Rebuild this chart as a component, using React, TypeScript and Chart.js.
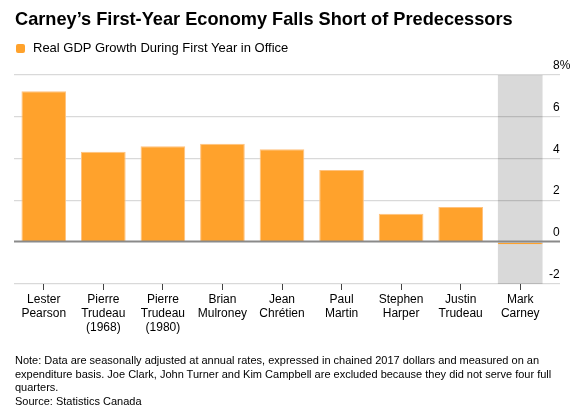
import React, { useEffect, useRef } from "react";
import { Chart, registerables } from "chart.js";

Chart.register(...registerables);

const categories: string[][] = [
  ["Lester", "Pearson"],
  ["Pierre", "Trudeau", "(1968)"],
  ["Pierre", "Trudeau", "(1980)"],
  ["Brian", "Mulroney"],
  ["Jean", "Chrétien"],
  ["Paul", "Martin"],
  ["Stephen", "Harper"],
  ["Justin", "Trudeau"],
  ["Mark", "Carney"],
];

// Real GDP growth (%) during first year in office
const gdpGrowth: number[] = [7.22, 4.33, 4.59, 4.71, 4.45, 3.46, 1.36, 1.69, -0.1];

const yTicks: number[] = [-2, 0, 2, 4, 6, 8];

const seriesLabel = "Real GDP Growth During First Year in Office";
const highlightIndex = 8;

const ORANGE = "#FFA22C";
const FONT = "'Liberation Sans', Arial, Helvetica, sans-serif";

const bandPlugin = {
  id: "highlightBand",
  beforeDraw(chart: any) {
    const meta = chart.getDatasetMeta(0);
    const bar = meta.data[highlightIndex];
    if (!bar) return;
    const { top, bottom } = chart.chartArea;
    const ctx = chart.ctx;
    const w = bar.width;
    ctx.save();
    ctx.fillStyle = "#d9d9d9";
    ctx.fillRect(bar.x - w / 2, top, w, bottom - top);
    ctx.restore();
  },
};

const axisPlugin = {
  id: "zeroLineAndLabels",
  afterDatasetsDraw(chart: any) {
    const ctx = chart.ctx;
    const y = chart.scales.y;
    const { left, right } = chart.chartArea;
    const y0 = Math.round(y.getPixelForValue(0));
    ctx.save();
    ctx.strokeStyle = "#8a8a8a";
    ctx.lineWidth = 2;
    ctx.beginPath();
    ctx.moveTo(left, y0 - 0.5);
    ctx.lineTo(right + 10, y0 - 0.5);
    ctx.stroke();

    ctx.fillStyle = "#000";
    ctx.font = `12px ${FONT}`;
    ctx.textBaseline = "alphabetic";
    ctx.textAlign = "left";
    const x = right + 3;
    yTicks.forEach((v) => {
      const py = y.getPixelForValue(v);
      const txt = v === yTicks[yTicks.length - 1] ? `${v}%` : String(v);
      const shift = v < 0 ? ctx.measureText("-").width : 0;
      ctx.fillText(txt, x - shift, py - 6);
    });
    ctx.restore();
  },
};

export default function App() {
  const canvasRef = useRef<HTMLCanvasElement | null>(null);

  useEffect(() => {
    if (!canvasRef.current) return;
    const chart = new Chart(canvasRef.current, {
      type: "bar",
      data: {
        labels: categories,
        datasets: [
          {
            label: seriesLabel,
            data: gdpGrowth,
            backgroundColor: ORANGE,
            borderColor: gdpGrowth.map((v) => (v < 0 ? ORANGE : "#FFC27E")),
            borderWidth: { top: 1, left: 1, right: 1, bottom: 0 },
            borderSkipped: "start",
            barPercentage: 0.75,
            categoryPercentage: 1.0,
          },
        ],
      },
      options: {
        animation: false,
        responsive: false,
        maintainAspectRatio: false,
        devicePixelRatio: 1,
        layout: { padding: { top: 75, left: 14, right: 0, bottom: 68 } },
        plugins: {
          legend: { display: false },
          title: { display: false },
          tooltip: { enabled: false },
        },
        scales: {
          x: {
            offset: true,
            grid: {
              offset: false,
              drawOnChartArea: false,
              drawTicks: true,
              tickLength: 6,
              color: "#444",
              lineWidth: 1,
            },
            border: { display: false },
            ticks: {
              autoSkip: false,
              maxRotation: 0,
              minRotation: 0,
              padding: 2,
              color: "#000",
              font: { family: FONT, size: 12, lineHeight: 1.2 },
            },
            afterFit: (s: any) => {
              s.height = 60;
            },
          },
          y: {
            position: "right",
            min: -2,
            max: 8,
            ticks: { stepSize: 2, display: false },
            grid: {
              color: (c: any) =>
                c.tick && c.tick.value === 0 ? "rgba(0,0,0,0)" : "rgba(0,0,0,0.15)",
              lineWidth: 1.2,
              drawTicks: true,
              tickLength: 10,
            },
            border: { display: false },
            afterFit: (s: any) => {
              s.width = 36;
            },
          },
        },
      },
      plugins: [bandPlugin, axisPlugin],
    });
    return () => chart.destroy();
  }, []);

  return (
    <div
      style={{
        position: "absolute",
        left: 0,
        top: 0,
        width: 586,
        height: 412,
        background: "#fff",
        fontFamily: FONT,
        color: "#000",
        overflow: "hidden",
      }}
    >
      <canvas
        ref={canvasRef}
        width={586}
        height={412}
        style={{ position: "absolute", left: 0, top: 0, width: 586, height: 412 }}
      />
      <div
        style={{
          position: "absolute",
          left: 15,
          top: 8,
          fontSize: 18.2,
          lineHeight: "22px",
          fontWeight: 700,
          whiteSpace: "nowrap",
        }}
      >
        Carney’s First-Year Economy Falls Short of Predecessors
      </div>
      <div
        style={{
          position: "absolute",
          left: 16,
          top: 44,
          width: 9,
          height: 9,
          borderRadius: 2,
          background: ORANGE,
        }}
      />
      <div
        style={{
          position: "absolute",
          left: 33,
          top: 40,
          fontSize: 13,
          lineHeight: "16px",
          whiteSpace: "nowrap",
        }}
      >
        {seriesLabel}
      </div>
      <div
        style={{
          position: "absolute",
          left: 15,
          top: 354,
          fontSize: 11,
          lineHeight: "13.5px",
          whiteSpace: "nowrap",
        }}
      >
        Note: Data are seasonally adjusted at annual rates, expressed in chained 2017 dollars and measured on an
        <br />
        expenditure basis. Joe Clark, John Turner and Kim Campbell are excluded because they did not serve four full
        <br />
        quarters.
        <br />
        Source: Statistics Canada
      </div>
    </div>
  );
}
